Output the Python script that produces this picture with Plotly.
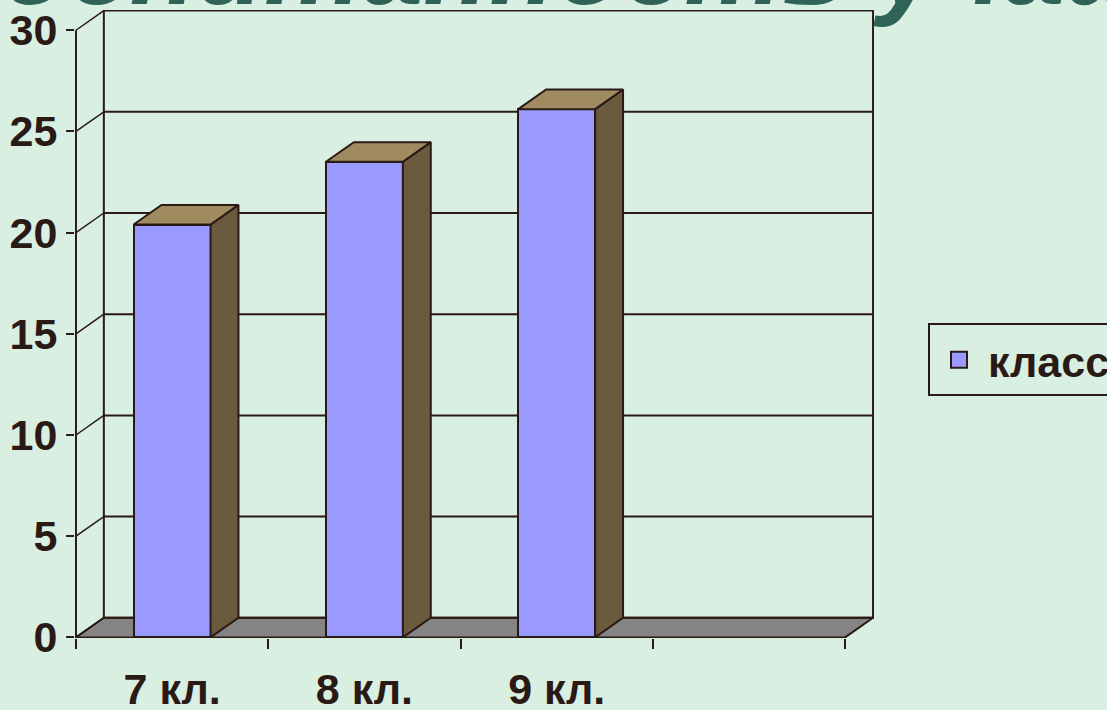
import plotly.graph_objects as go

# ---- data ----
categories = ["7 кл.", "8 кл.", "9 кл.", ""]
values = [20.4, 23.5, 26.1]
series_name = "класс"
y_ticks = [0, 5, 10, 15, 20, 25, 30]
title_text = "Воспитанность учащихся"

# ---- style / geometry ----
DX = 0.145      # depth offset along x (category units)
DY = 0.97       # depth offset along y (value units)
BAR_W = 0.4
YMAX = 30
BG = "#d9efe1"
INK = "#2a1a16"
FRONT = "#9999ff"
SIDE = "#6b5a3e"
TOP = "#a08a60"
FLOOR = "#848484"
FONT = "Liberation Sans"

n_cat = len(categories)
centers = [i + 0.5 for i in range(n_cat)]
bar_x = centers[:len(values)]

fig = go.Figure()

# front faces of the bars
fig.add_trace(go.Bar(
    x=bar_x, y=values, width=BAR_W, name=series_name,
    marker=dict(color=FRONT, line=dict(color=INK, width=2)),
    showlegend=False, legendgroup="s", hoverinfo="y",
))

# side and top faces (computed from values)
for c, v in zip(bar_x, values):
    r = c + BAR_W / 2
    l = c - BAR_W / 2
    fig.add_trace(go.Scatter(
        x=[r, r + DX, r + DX, r, r], y=[0, DY, v + DY, v, 0],
        mode="lines", fill="toself", fillcolor=SIDE,
        line=dict(color=INK, width=2), showlegend=False, hoverinfo="skip",
    ))
    fig.add_trace(go.Scatter(
        x=[l, r, r + DX, l + DX, l], y=[v, v, v + DY, v + DY, v],
        mode="lines", fill="toself", fillcolor=TOP,
        line=dict(color=INK, width=2), showlegend=False, hoverinfo="skip",
    ))

# legend entry
fig.add_trace(go.Scatter(
    x=[None], y=[None], mode="markers", name=series_name, legendgroup="s",
    marker=dict(symbol="square", size=16, color=FRONT, line=dict(color=INK, width=2)),
))

shapes = []
# floor
shapes.append(dict(
    type="path", xref="x", yref="y", layer="below",
    path=f"M0,0 L{n_cat},0 L{n_cat + DX},{DY} L{DX},{DY} Z",
    fillcolor=FLOOR, line=dict(color=INK, width=2),
))
# back wall frame
shapes.append(dict(
    type="rect", xref="x", yref="y", layer="below",
    x0=DX, y0=DY, x1=n_cat + DX, y1=YMAX + DY,
    line=dict(color=INK, width=2), fillcolor="rgba(0,0,0,0)",
))
# back wall gridlines
for t in y_ticks[1:-1]:
    shapes.append(dict(type="line", xref="x", yref="y", layer="below",
                       x0=DX, y0=t + DY, x1=n_cat + DX, y1=t + DY,
                       line=dict(color=INK, width=2)))
# side wall diagonals
for t in y_ticks:
    shapes.append(dict(type="line", xref="x", yref="y", layer="below",
                       x0=0, y0=t, x1=DX, y1=t + DY,
                       line=dict(color=INK, width=1.5)))
# front value axis line
shapes.append(dict(type="line", xref="x", yref="y", layer="below",
                   x0=0, y0=0, x1=0, y1=YMAX,
                   line=dict(color=INK, width=2)))

fig.update_layout(
    width=1107, height=710,
    paper_bgcolor=BG, plot_bgcolor=BG,
    margin=dict(l=75, r=233, t=10, b=72, autoexpand=False),
    shapes=shapes,
    bargap=0,
    showlegend=True,
    legend=dict(
        x=1.0676, y=0.443, xanchor="left", yanchor="middle",
        bordercolor=INK, borderwidth=2, bgcolor="rgba(0,0,0,0)",
        itemwidth=48,
        font=dict(family=FONT, size=43, color=INK, weight="bold"),
    ),
    font=dict(family=FONT, color=INK),
    annotations=[dict(
        text=f"<b><i>{title_text}</i></b>", xref="paper", yref="paper",
        x=-0.194, y=0.969, xanchor="left", yanchor="bottom", showarrow=False,
        font=dict(family=FONT, size=110, color="#2f6358"),
    )],
)

fig.update_xaxes(
    range=[-0.005, n_cat + DX + 0.005],
    tickmode="array", tickvals=centers, ticktext=categories,
    ticks="", showgrid=False, zeroline=False, showline=False,
    tickfont=dict(family=FONT, size=43, color=INK, weight="bold"),
    ticklabelstandoff=22,
    minor=dict(tickmode="array", tickvals=list(range(n_cat + 1)), ticks="outside",
               ticklen=10, tickwidth=2, tickcolor=INK, showgrid=False),
)
fig.update_yaxes(
    range=[-0.03, YMAX + DY + 0.03],
    tickmode="array", tickvals=y_ticks, ticks="outside", ticklen=8,
    tickwidth=2, tickcolor=INK, showgrid=False, zeroline=False, showline=False,
    tickfont=dict(family=FONT, size=43, color=INK, weight="bold"),
    ticklabelstandoff=0,
)

fig.write_html(
    "out.html",
    config={"displayModeBar": False},
    post_script=f"document.body.style.margin='0';document.body.style.background='{BG}';",
)
